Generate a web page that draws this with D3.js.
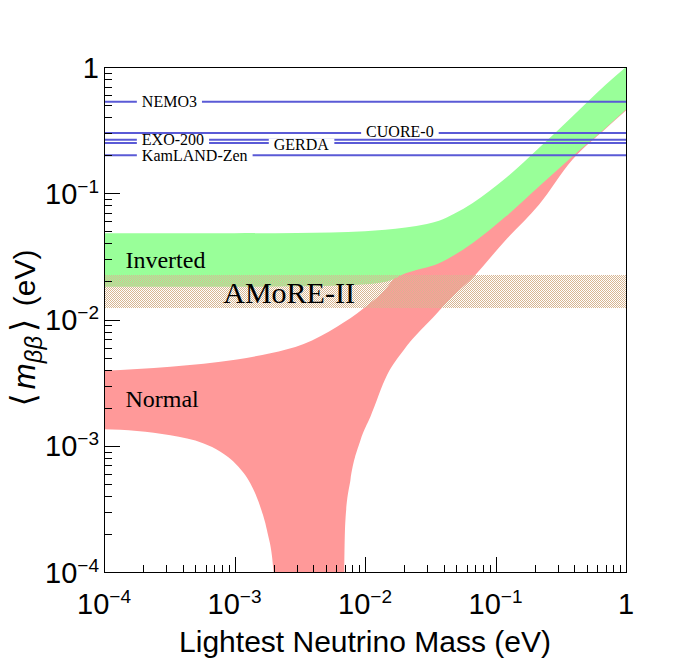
<!DOCTYPE html>
<html>
<head>
<meta charset="utf-8">
<script src="https://cdn.jsdelivr.net/npm/d3@7"></script>
<style>
  body { margin: 0; background: #fff; }
  text { fill: #000; }
</style>
</head>
<body>
<script>
// ---- values (all in eV) ----

// inverted hierarchy band (green)
var invUpperMass = [1e-4, 1e-3, 0.003, 0.01, 0.0205, 0.0298, 0.0369, 0.0486, 0.0665, 0.120, 0.215, 0.388, 0.698, 1];
var invUpperVal  = [0.0483, 0.0483, 0.0485, 0.0501, 0.0535, 0.0572, 0.0605, 0.069, 0.0834, 0.132, 0.228, 0.406, 0.724, 1.0];
var invLowerMass = [1e-4, 1e-3, 0.003, 0.00818, 0.01476, 0.0205, 0.0369, 0.0665, 0.1197, 0.2153, 0.388, 0.698, 1];
var invLowerVal  = [0.0182, 0.0182, 0.0183, 0.01875, 0.0200, 0.0232, 0.0279, 0.0402, 0.0653, 0.1130, 0.1954, 0.328, 0.460];

// normal hierarchy band (red)
var normUpperMass = [1e-4, 3.23e-4, 1.045e-3, 1.884e-3, 3.39e-3, 6.10e-3, 9.77e-3, 0.01567, 0.0205, 0.0369, 0.0665, 0.120, 0.215, 0.388, 0.698, 1];
var normUpperVal  = [0.00393, 0.00423, 0.00483, 0.00540, 0.00640, 0.00877, 0.01227, 0.0195, 0.030, 0.045, 0.070, 0.118, 0.21, 0.38, 0.68, 0.97];
var normLowerMass = [1e-4, 1.79e-4, 3.23e-4, 5.81e-4, 7.80e-4, 1.045e-3, 1.324e-3, 1.578e-3, 1.774e-3, 1.995e-3, 2.04e-3,
                     6.90e-3, 6.95e-3, 7.08e-3, 7.73e-3, 9.23e-3, 0.0110, 0.01476, 0.01982, 0.0356, 0.0440, 0.0643, 0.1175, 0.2153, 0.388, 0.698, 1];
var normLowerVal  = [0.00135, 0.00131, 0.00121, 0.00104, 0.000895, 0.000702, 0.000502, 0.000327, 0.000214, 0.0001, 0.00003,
                     0.00003, 0.0001, 0.000257, 0.000533, 0.001107, 0.001694, 0.00363, 0.00573, 0.01119, 0.01429, 0.02056, 0.0417, 0.0809, 0.184, 0.324, 0.452];

// AMoRE-II sensitivity band
var amoreRange = [0.0123, 0.0225];

// experimental upper limits
var expNames  = ["NEMO3", "CUORE-0", "EXO-200", "GERDA", "KamLAND-Zen"];
var expLimits = [0.53, 0.30, 0.265, 0.25, 0.20];

// axis ticks
var majorTicks = [1e-4, 1e-3, 1e-2, 1e-1, 1];
var tickExps   = ["\u22124", "\u22123", "\u22122", "\u22121", ""];

// ---- layout ----
var W = 696, H = 672;
var L = 104, R = 626, T = 67, B = 572;
var sans = "'Liberation Sans', Arial, Helvetica, sans-serif";
var serif = "'Liberation Serif', 'Times New Roman', serif";

var svg = d3.select("body").append("svg")
  .attr("width", W).attr("height", H)
  .style("display", "block");

var x = d3.scaleLog().domain([1e-4, 1]).range([L, R]);
var y = d3.scaleLog().domain([1e-4, 1]).range([B, T]);

var defs = svg.append("defs");
defs.append("clipPath").attr("id", "plotclip")
  .append("rect").attr("x", L).attr("y", T).attr("width", R - L).attr("height", B - T);

// checkerboard hatch like ROOT fill style
var hatch = defs.append("pattern").attr("id", "hatch")
  .attr("width", 2).attr("height", 2).attr("patternUnits", "userSpaceOnUse");
hatch.append("rect").attr("x", 0).attr("y", 0).attr("width", 1).attr("height", 1)
  .attr("fill", "#d8b692").attr("shape-rendering", "crispEdges");
hatch.append("rect").attr("x", 1).attr("y", 1).attr("width", 1).attr("height", 1)
  .attr("fill", "#d8b692").attr("shape-rendering", "crispEdges");

var plot = svg.append("g").attr("clip-path", "url(#plotclip)");

// closed band: upper edge left->right, lower edge right->left
function band(upM, upV, loM, loV) {
  var line = d3.line()
    .x(function(d) { return x(d[0]); })
    .y(function(d) { return y(d[1]); })
    .curve(d3.curveMonotoneX);
  var up = d3.zip(upM, upV);
  var lo = d3.zip(loM, loV).reverse();
  return line(up) + line(lo).replace(/^M/, "L") + "Z";
}

plot.append("path")
  .attr("d", band(normUpperMass, normUpperVal, normLowerMass, normLowerVal))
  .attr("fill", "#ff9999");

plot.append("path")
  .attr("d", band(invUpperMass, invUpperVal, invLowerMass, invLowerVal))
  .attr("fill", "#99ff99");

plot.append("rect")
  .attr("x", L).attr("width", R - L)
  .attr("y", Math.round(y(amoreRange[1])))
  .attr("height", Math.round(y(amoreRange[0]) - y(amoreRange[1])))
  .attr("fill", "url(#hatch)")
  .attr("shape-rendering", "crispEdges");

// limit lines
plot.selectAll("line.lim").data(expLimits).enter().append("line")
  .attr("class", "lim")
  .attr("x1", L).attr("x2", R)
  .attr("y1", function(d) { return y(d); })
  .attr("y2", function(d) { return y(d); })
  .attr("stroke", "#5a5ad6").attr("stroke-width", 2);

// labels on the limit lines, white box behind
var labelAt = { "NEMO3": [1.95e-4, 0], "CUORE-0": [0.0102, -2], "EXO-200": [1.95e-4, 0], "GERDA": [2e-3, 1], "KamLAND-Zen": [1.95e-4, 0] };
expNames.forEach(function(n, i) {
  var yy = y(expLimits[i]) + labelAt[n][1];
  var g = svg.append("g");
  var t = g.append("text")
    .attr("x", x(labelAt[n][0]))
    .attr("y", yy + 5.5)
    .style("font-family", serif).style("font-size", "16px")
    .text(n);
  var bb = t.node().getBBox();
  g.insert("rect", "text")
    .attr("x", bb.x - 5).attr("width", bb.width + 10)
    .attr("y", yy - 5.5).attr("height", 11)
    .attr("fill", "#fff");
});

// region labels
svg.append("text").attr("x", x(1.46e-4)).attr("y", y(0.0255))
  .style("font-family", serif).style("font-size", "24px").text("Inverted");
svg.append("text").attr("x", x(1.46e-4)).attr("y", y(0.00203))
  .style("font-family", serif).style("font-size", "24px").text("Normal");
svg.append("text").attr("x", x(8.2e-4)).attr("y", y(0.0134))
  .style("font-family", serif).style("font-size", "30px").text("AMoRE-II");

// frame
svg.append("rect")
  .attr("x", L).attr("y", T).attr("width", R - L).attr("height", B - T)
  .attr("fill", "none").attr("stroke", "#000").attr("stroke-width", 1)
  .attr("shape-rendering", "crispEdges");

// ticks (inside, left and bottom only)
var minorTicks = [];
majorTicks.slice(0, -1).forEach(function(d) {
  for (var k = 2; k <= 9; k++) minorTicks.push(k * d);
});

function tickAxis(g) {
  g.select(".domain").remove();
  g.selectAll("line").attr("shape-rendering", "crispEdges");
}

svg.append("g").attr("transform", "translate(0," + B + ")")
  .call(d3.axisBottom(x).tickValues(minorTicks).tickSize(-7.5).tickFormat(""))
  .call(tickAxis);
svg.append("g").attr("transform", "translate(0," + B + ")")
  .call(d3.axisBottom(x).tickValues(majorTicks).tickSize(-15).tickFormat(""))
  .call(tickAxis);
svg.append("g").attr("transform", "translate(" + L + ",0)")
  .call(d3.axisLeft(y).tickValues(minorTicks).tickSize(-8).tickFormat(""))
  .call(tickAxis);
svg.append("g").attr("transform", "translate(" + L + ",0)")
  .call(d3.axisLeft(y).tickValues(majorTicks).tickSize(-16).tickFormat(""))
  .call(tickAxis);

// tick labels: 10^{n}
function powLabel(sel, i) {
  if (tickExps[i] === "") { sel.text("1"); return; }
  sel.append("tspan").text("10");
  sel.append("tspan").attr("dy", -11).style("font-size", "19px").text(tickExps[i]);
}

majorTicks.forEach(function(v, i) {
  var tx = svg.append("text")
    .attr("x", x(v)).attr("y", B + 42)
    .attr("text-anchor", "middle")
    .style("font-family", sans).style("font-size", "29px");
  powLabel(tx, i);

  var ty = svg.append("text")
    .attr("x", L - 5).attr("y", y(v) + 10.5)
    .attr("text-anchor", "end")
    .style("font-family", sans).style("font-size", "29px");
  powLabel(ty, i);
});

// axis titles
svg.append("text")
  .attr("x", (L + R) / 2).attr("y", 652)
  .attr("text-anchor", "middle")
  .style("font-family", sans).style("font-size", "30px")
  .text("Lightest Neutrino Mass (eV)");

var yt = svg.append("text")
  .attr("transform", "translate(35,328) rotate(-90)")
  .attr("text-anchor", "middle")
  .style("font-family", sans).style("font-size", "30px");
yt.append("tspan").style("font-family", "'DejaVu Sans', sans-serif").style("font-size", "34px").text("\u27E8");
yt.append("tspan").attr("dx", 4).style("font-style", "italic").style("font-size", "31px").text("m");
yt.append("tspan").attr("dy", 7).style("font-style", "italic").style("font-size", "24px").text("\u03B2\u03B2");
yt.append("tspan").attr("dy", -7).attr("dx", 4).style("font-family", "'DejaVu Sans', sans-serif").style("font-size", "34px").text("\u27E9");
yt.append("tspan").attr("dx", 4).text(" (eV)");
</script>
</body>
</html>
